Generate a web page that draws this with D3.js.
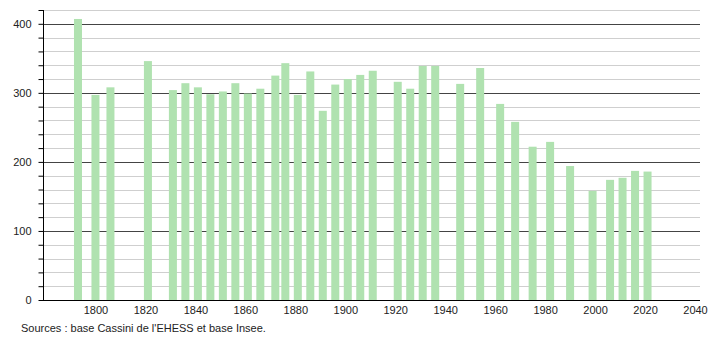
<!DOCTYPE html>
<html>
<head>
<meta charset="utf-8">
<script src="https://cdn.jsdelivr.net/npm/d3@7"></script>
<style>
  body { margin: 0; background: #fff; }
  svg { display: block; font-family: "Liberation Sans", Arial, sans-serif; }
</style>
</head>
<body>
<svg id="chart" width="710" height="340"></svg>
<script>
// census years and population
var years = [1793, 1800, 1806, 1821, 1831, 1836, 1841, 1846, 1851, 1856,
             1861, 1866, 1872, 1876, 1881, 1886, 1891, 1896, 1901, 1906,
             1911, 1921, 1926, 1931, 1936, 1946, 1954, 1962, 1968, 1975,
             1982, 1990, 1999, 2006, 2011, 2016, 2021];
var population = [407, 297, 308, 346, 304, 314, 308, 298, 302, 314,
                  299, 306, 325, 343, 297, 331, 274, 312, 320, 326,
                  332, 316, 306, 339, 339, 313, 336, 284, 258, 222,
                  229, 194, 158, 174, 177, 187, 186];
var xTicks = [1800, 1820, 1840, 1860, 1880, 1900, 1920, 1940, 1960, 1980, 2000, 2020, 2040];
var yTicks = [0, 100, 200, 300, 400];
var sourceText = "Sources : base Cassini de l'EHESS et base Insee.";

(function () {
  var data = years.map((y, i) => ({year: y, pop: population[i]}));

  var svg = d3.select("#chart");
  var pLeft = 43, pRight = 700, pTop = 10, pBottom = 300;

  var x = d3.scaleLinear().domain([1779, 2042]).range([pLeft, pRight]);
  var y = d3.scaleLinear().domain([0, 420]).range([pBottom, pTop]);

  // minor grid every 20
  svg.append("g")
    .selectAll("line")
    .data(d3.range(20, 421, 20).filter(d => d % 100))
    .join("line")
      .attr("x1", pLeft).attr("x2", pRight)
      .attr("y1", d => Math.round(y(d)) + 0.5).attr("y2", d => Math.round(y(d)) + 0.5)
      .attr("stroke", "#cfcfcf");

  // major grid
  svg.append("g")
    .selectAll("line")
    .data(yTicks.slice(1))
    .join("line")
      .attr("x1", pLeft).attr("x2", pRight)
      .attr("y1", d => Math.round(y(d)) + 0.5).attr("y2", d => Math.round(y(d)) + 0.5)
      .attr("stroke", "#444");

  // bars
  var bw = 8;
  svg.append("g")
    .selectAll("rect")
    .data(data)
    .join("rect")
      .attr("x", d => x(d.year) - bw / 2)
      .attr("y", d => y(d.pop))
      .attr("width", bw)
      .attr("height", d => y(0) - y(d.pop))
      .attr("fill", "#b0e2b0");

  // y axis
  var yAxis = svg.append("g")
    .attr("transform", `translate(${pLeft + 0.5},0)`)
    .call(d3.axisLeft(y).tickValues(d3.range(0, 421, 20)).tickSize(5).tickFormat(d => d % 100 ? "" : d));
  yAxis.select(".domain").attr("d", `M0,${y(0)}V${pTop}`).attr("stroke", "#000");
  yAxis.selectAll(".tick line").attr("stroke", "#000");
  yAxis.selectAll(".tick text")
    .attr("x", -12)
    .attr("font-size", 11)
    .attr("font-family", "Liberation Sans, Arial, sans-serif")
    .attr("fill", "#222");

  // x axis
  var xAxis = svg.append("g")
    .attr("transform", `translate(0,${pBottom + 0.5})`)
    .call(d3.axisBottom(x).tickValues(xTicks).tickSize(0).tickFormat(d3.format("d")));
  xAxis.select(".domain").attr("d", `M${pLeft - 4},0H${pRight}`).attr("stroke", "#000");
  xAxis.selectAll(".tick text")
    .attr("y", 6)
    .attr("font-size", 11)
    .attr("font-family", "Liberation Sans, Arial, sans-serif")
    .attr("fill", "#222");

  svg.append("text")
    .attr("x", 21)
    .attr("y", 332)
    .attr("font-size", 11)
    .attr("fill", "#222")
    .text(sourceText);
})();
</script>
</body>
</html>
